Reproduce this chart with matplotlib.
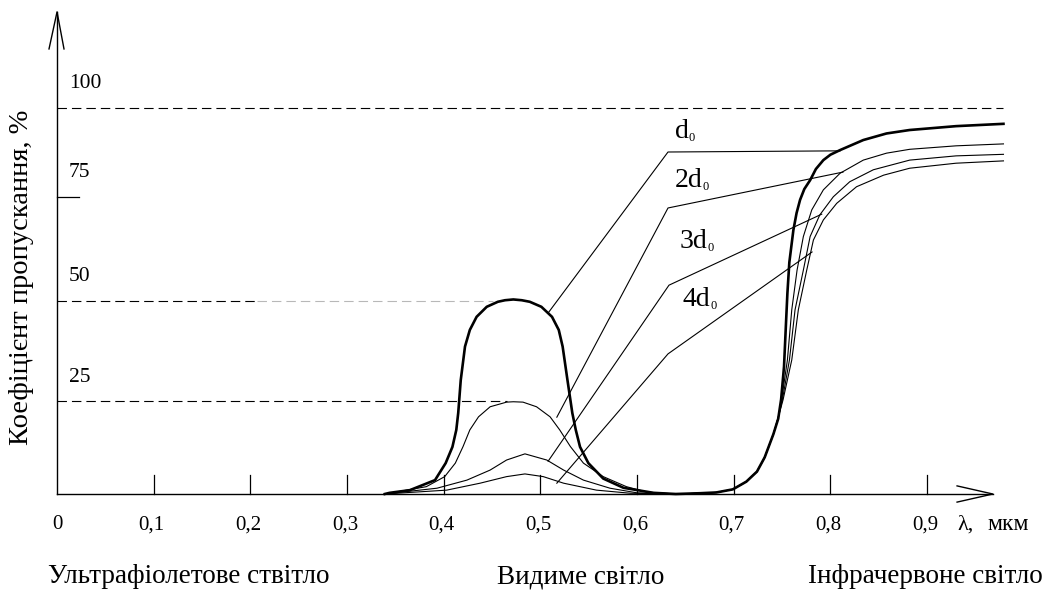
import matplotlib
matplotlib.use('Agg')
import matplotlib.pyplot as plt

plt.rcParams['font.family'] = ['Liberation Serif', 'DejaVu Serif']

# ── Data ──
x_ticks = [0.1, 0.2, 0.3, 0.4, 0.5, 0.6, 0.7, 0.8, 0.9]
x_tick_labels = ['0,1', '0,2', '0,3', '0,4', '0,5', '0,6', '0,7', '0,8', '0,9']
y_labels = ['100', '75', '50', '25']
y_levels = [100, 77, 50, 24]          # where the marks sit in the figure

# transmission curves: lambda (um) -> T (%)
d1_x = [0.339, 0.344, 0.365, 0.391, 0.402, 0.409, 0.413, 0.415, 0.4176, 0.422,
        0.427, 0.434, 0.4445, 0.456, 0.4634, 0.472, 0.4807, 0.489, 0.501, 0.512,
        0.519, 0.523, 0.528, 0.533, 0.5366, 0.541, 0.5496, 0.565, 0.586, 0.617,
        0.640, 0.665, 0.682, 0.699, 0.713, 0.724, 0.732, 0.741, 0.746, 0.749,
        0.752, 0.754, 0.7555, 0.7575, 0.7617, 0.765, 0.7686, 0.773, 0.779, 0.785,
        0.7927, 0.800, 0.810, 0.834, 0.858, 0.882, 0.930, 0.979]
d1_y = [0, 0.3, 1, 3.6, 8, 12.2, 16.6, 21, 29.5, 38.2,
        42.5, 45.9, 48.5, 49.8, 50.2, 50.4, 50.2, 49.8, 48.5, 45.9,
        42.5, 38.2, 29.5, 21, 16.6, 12.2, 8, 4, 1.6, 0.3,
        0, 0.2, 0.4, 1.2, 3.2, 5.8, 9.5, 15.5, 19.5, 24.5,
        33, 44, 52, 60, 68.4, 72.8, 76.2, 79, 81.3, 84.2,
        86.5, 87.9, 89.1, 91.7, 93.4, 94.3, 95.3, 95.9]

d2_x = [0.339, 0.382, 0.401, 0.412, 0.420, 0.427, 0.436, 0.448, 0.465, 0.472,
        0.482, 0.496, 0.510, 0.520, 0.531, 0.5445, 0.565, 0.589, 0.610, 0.640,
        0.665, 0.682, 0.699, 0.713, 0.724, 0.732, 0.741, 0.746, 0.7495, 0.7555,
        0.760, 0.7655, 0.772, 0.7807, 0.7927, 0.810, 0.834, 0.858, 0.882, 0.930,
        0.979]
d2_y = [0, 1.9, 4.5, 8, 12.3, 16.6, 20, 22.6, 23.8, 23.9,
        23.8, 22.6, 20, 16.6, 12.3, 8, 4.5, 1.9, 0.5, 0,
        0.2, 0.4, 1.2, 3.2, 5.8, 9.5, 15.5, 19.8, 24.4, 34.7,
        47.7, 58, 66.7, 73.6, 78.8, 83.1, 86.5, 88.3, 89.3, 90.2,
        90.7]

d3_x = [0.339, 0.393, 0.424, 0.448, 0.465, 0.484, 0.5066, 0.524, 0.5445, 0.572,
        0.600, 0.640, 0.665, 0.682, 0.699, 0.713, 0.724, 0.732, 0.741, 0.746,
        0.7503, 0.7576, 0.7634, 0.772, 0.779, 0.789, 0.803, 0.820, 0.8444, 0.882,
        0.930, 0.979]
d3_y = [0, 1.5, 3.6, 6.2, 8.8, 10.4, 8.8, 6.2, 3.6, 1.5,
        0.3, 0, 0.2, 0.4, 1.2, 3.2, 5.8, 9.5, 15.5, 19.8,
        24.4, 34.7, 47.7, 58, 66.7, 72.3, 77, 80.9, 84, 86.5,
        87.6, 88]

d4_x = [0.339, 0.403, 0.4376, 0.465, 0.484, 0.503, 0.524, 0.558, 0.593, 0.640,
        0.665, 0.682, 0.699, 0.713, 0.724, 0.732, 0.741, 0.746, 0.751, 0.760,
        0.7668, 0.7755, 0.7824, 0.7927, 0.8065, 0.827, 0.855, 0.882, 0.930, 0.979]
d4_y = [0, 1, 2.8, 4.5, 5.2, 4.5, 2.8, 1, 0.2, 0,
        0.2, 0.4, 1.2, 3.2, 5.8, 9.5, 15.5, 19.8, 24.4, 34.7,
        47.7, 58, 65.8, 71, 75.3, 79.6, 82.6, 84.4, 85.7, 86.3]

# leader lines from the curves to their labels
lead_main = ['d', '2d', '3d', '4d']
lead_x = [[0.508, 0.632, 0.810], [0.517, 0.632, 0.813],
          [0.508, 0.633, 0.791], [0.517, 0.632, 0.781]]
lead_y = [[46.9, 88.6, 88.9], [19.9, 74.1, 83.4],
          [8.5, 54.1, 72.5], [2.8, 36.3, 62.7]]
lead_text_pos = [(0.639, 93.8), (0.639, 81.1), (0.644, 65.3), (0.6475, 50.3)]

band_labels = ['Ультрафіолетове ствітло', 'Видиме світло', 'Інфрачервоне світло']

# ── Figure ──
fig = plt.figure(figsize=(10.46, 5.9), dpi=100)
fig.patch.set_facecolor('white')
ax = fig.add_axes([0, 0, 1, 1])
ax.set_xlim(-0.059, 1.023)
ax.set_ylim(-24.87, 127.98)
ax.axis('off')

k = 'black'
dash = (0, (8.5, 4.5))

# axes with open arrowheads
ax.plot([0, 0], [0, 124.9], color=k, lw=1.0)
ax.plot([-0.0083, 0, 0.0072], [115.3, 124.9, 115.3], color=k, lw=1.0)
ax.plot([0, 0.968], [0, 0], color=k, lw=1.0)
ax.plot([0.931, 0.968, 0.931], [2.1, 0, -2.1], color=k, lw=1.0)

for xt, lab in zip(x_ticks, x_tick_labels):
    ax.plot([xt, xt], [0, 4.9], color=k, lw=0.9)
    ax.text(xt - 0.002, -8, lab, ha='center', va='center', fontsize=15)
ax.text(0, -8, '0', ha='center', va='center', fontsize=15)
ax.text(0.931, -8, 'λ,', ha='left', va='center', fontsize=16)
ax.text(0.962, -8, 'мкм', ha='left', va='center', fontsize=17)

# reference levels
ax.plot([0, 0.979], [y_levels[0], y_levels[0]], color=k, lw=0.8, linestyle=dash)
ax.plot([0, 0.0228], [y_levels[1], y_levels[1]], color=k, lw=0.9)
ax.plot([0, 0.207], [y_levels[2], y_levels[2]], color=k, lw=0.8, linestyle=dash)
ax.plot([0.207, 0.451], [y_levels[2], y_levels[2]], color='#b8b8b8', lw=0.8, linestyle=dash)
ax.plot([0, 0.465], [y_levels[3], y_levels[3]], color=k, lw=0.8, linestyle=dash)
for lab, lev in zip(y_labels, y_levels):
    ax.text(0.0125, lev + 6.3, lab, ha='left', va='center', fontsize=15.5)

# curves
ax.plot(d4_x, d4_y, color=k, lw=0.8)
ax.plot(d3_x, d3_y, color=k, lw=0.8)
ax.plot(d2_x, d2_y, color=k, lw=0.8)
ax.plot(d1_x, d1_y, color=k, lw=1.9)

for lab, lx, ly, (tx, ty) in zip(lead_main, lead_x, lead_y, lead_text_pos):
    ax.plot(lx, ly, color=k, lw=0.8)
    t = ax.text(tx, ty, lab, ha='left', va='center', fontsize=20)
    ax.annotate('0', xy=(1.0, 0.0), xycoords=t, xytext=(0, 0),
                textcoords='offset points', ha='left', va='bottom', fontsize=9)

ax.text(-0.037, 56.2, 'Коефіцієнт пропускання, %', rotation=90,
        ha='center', va='center', fontsize=20.5)

ax.text(-0.0093, -21.5, band_labels[0], ha='left', va='center', fontsize=19.5)
ax.text(0.542, -21.5, band_labels[1], ha='center', va='center', fontsize=19.5)
ax.text(1.02, -21.5, band_labels[2], ha='right', va='center', fontsize=19.5)

plt.savefig('out.png', dpi=100, facecolor='white')
